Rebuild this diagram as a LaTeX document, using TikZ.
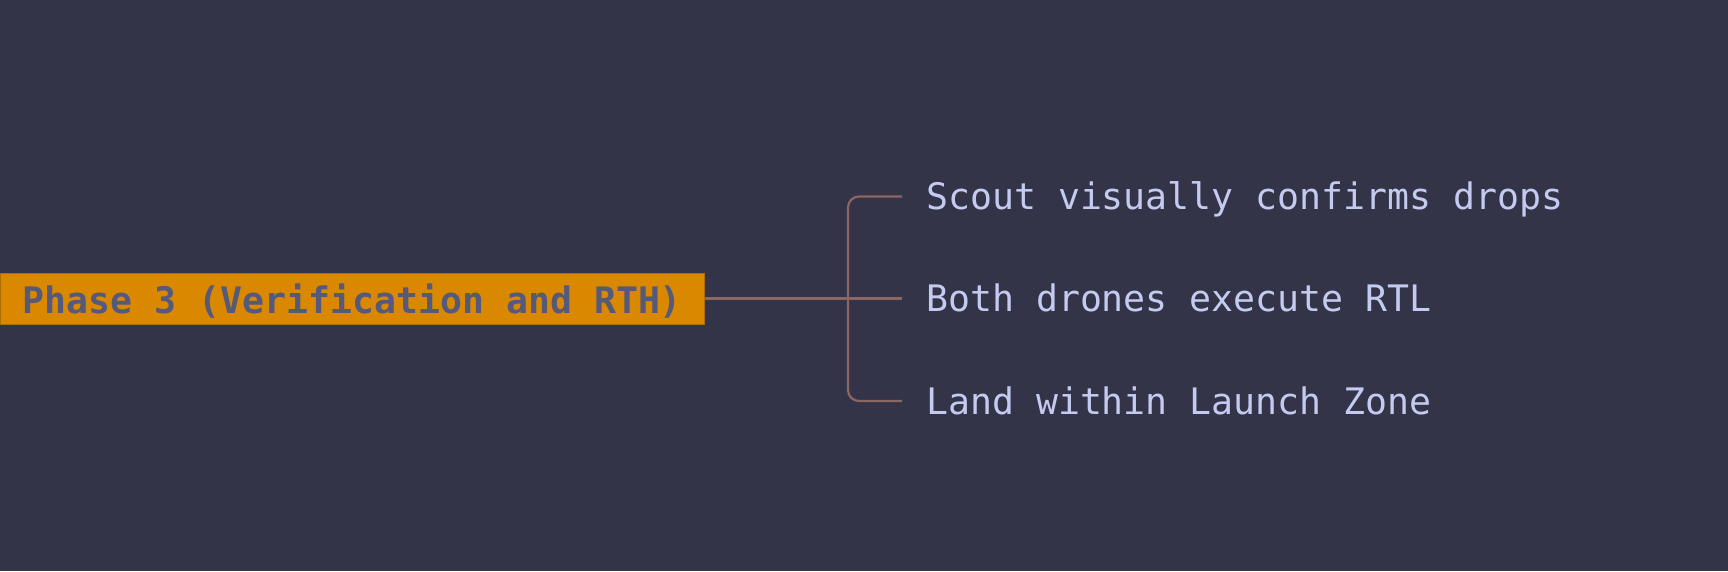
\documentclass[tikz,border=0pt]{standalone}
\usepackage{fontspec}
\newfontfamily\monofam{DejaVu Sans Mono}
\definecolor{bgc}{RGB}{51,52,72}
\definecolor{rootfill}{RGB}{217,136,0}
\definecolor{roottext}{RGB}{85,90,122}
\definecolor{leaftext}{RGB}{197,202,240}
\definecolor{linec}{RGB}{139,102,98}
\begin{document}
\begin{tikzpicture}[x=1pt,y=1pt,
  rootbox/.style={fill=rootfill, draw=rootfill!80!black, line width=0.8pt, minimum width=704pt, minimum height=51pt, inner sep=0pt, anchor=west,
    font=\monofam\bfseries\fontsize{36.5}{40}\selectfont, text=roottext, text height=30pt, text depth=0pt},
  leaf/.style={anchor=west, inner xsep=24pt, inner ysep=0pt, font=\monofam\fontsize{36.5}{40}\selectfont, text=leaftext, text height=26.6pt, text depth=0pt},
  conn/.style={draw=linec, line width=2.2pt}]
\fill[bgc] (0,0) rectangle (1728,-571);
\useasboundingbox (0,0) rectangle (1728,-571);
\node[rootbox] (root) at (0,-298.5) {Phase 3 (Verification and RTH)};
\node[leaf] (c1) at (902,-196.5) {Scout visually confirms drops};
\node[leaf] (c2) at (902,-298.5) {Both drones execute RTL};
\node[leaf] (c3) at (902,-401) {Land within Launch Zone};
\coordinate (j) at (848,-298.5);
\draw[conn] (root.east) -- (c2.west);
\draw[conn, rounded corners=11pt] (c1.west) -- (c1.west -| j) -- (c3.west -| j) -- (c3.west);
\end{tikzpicture}
\end{document}
